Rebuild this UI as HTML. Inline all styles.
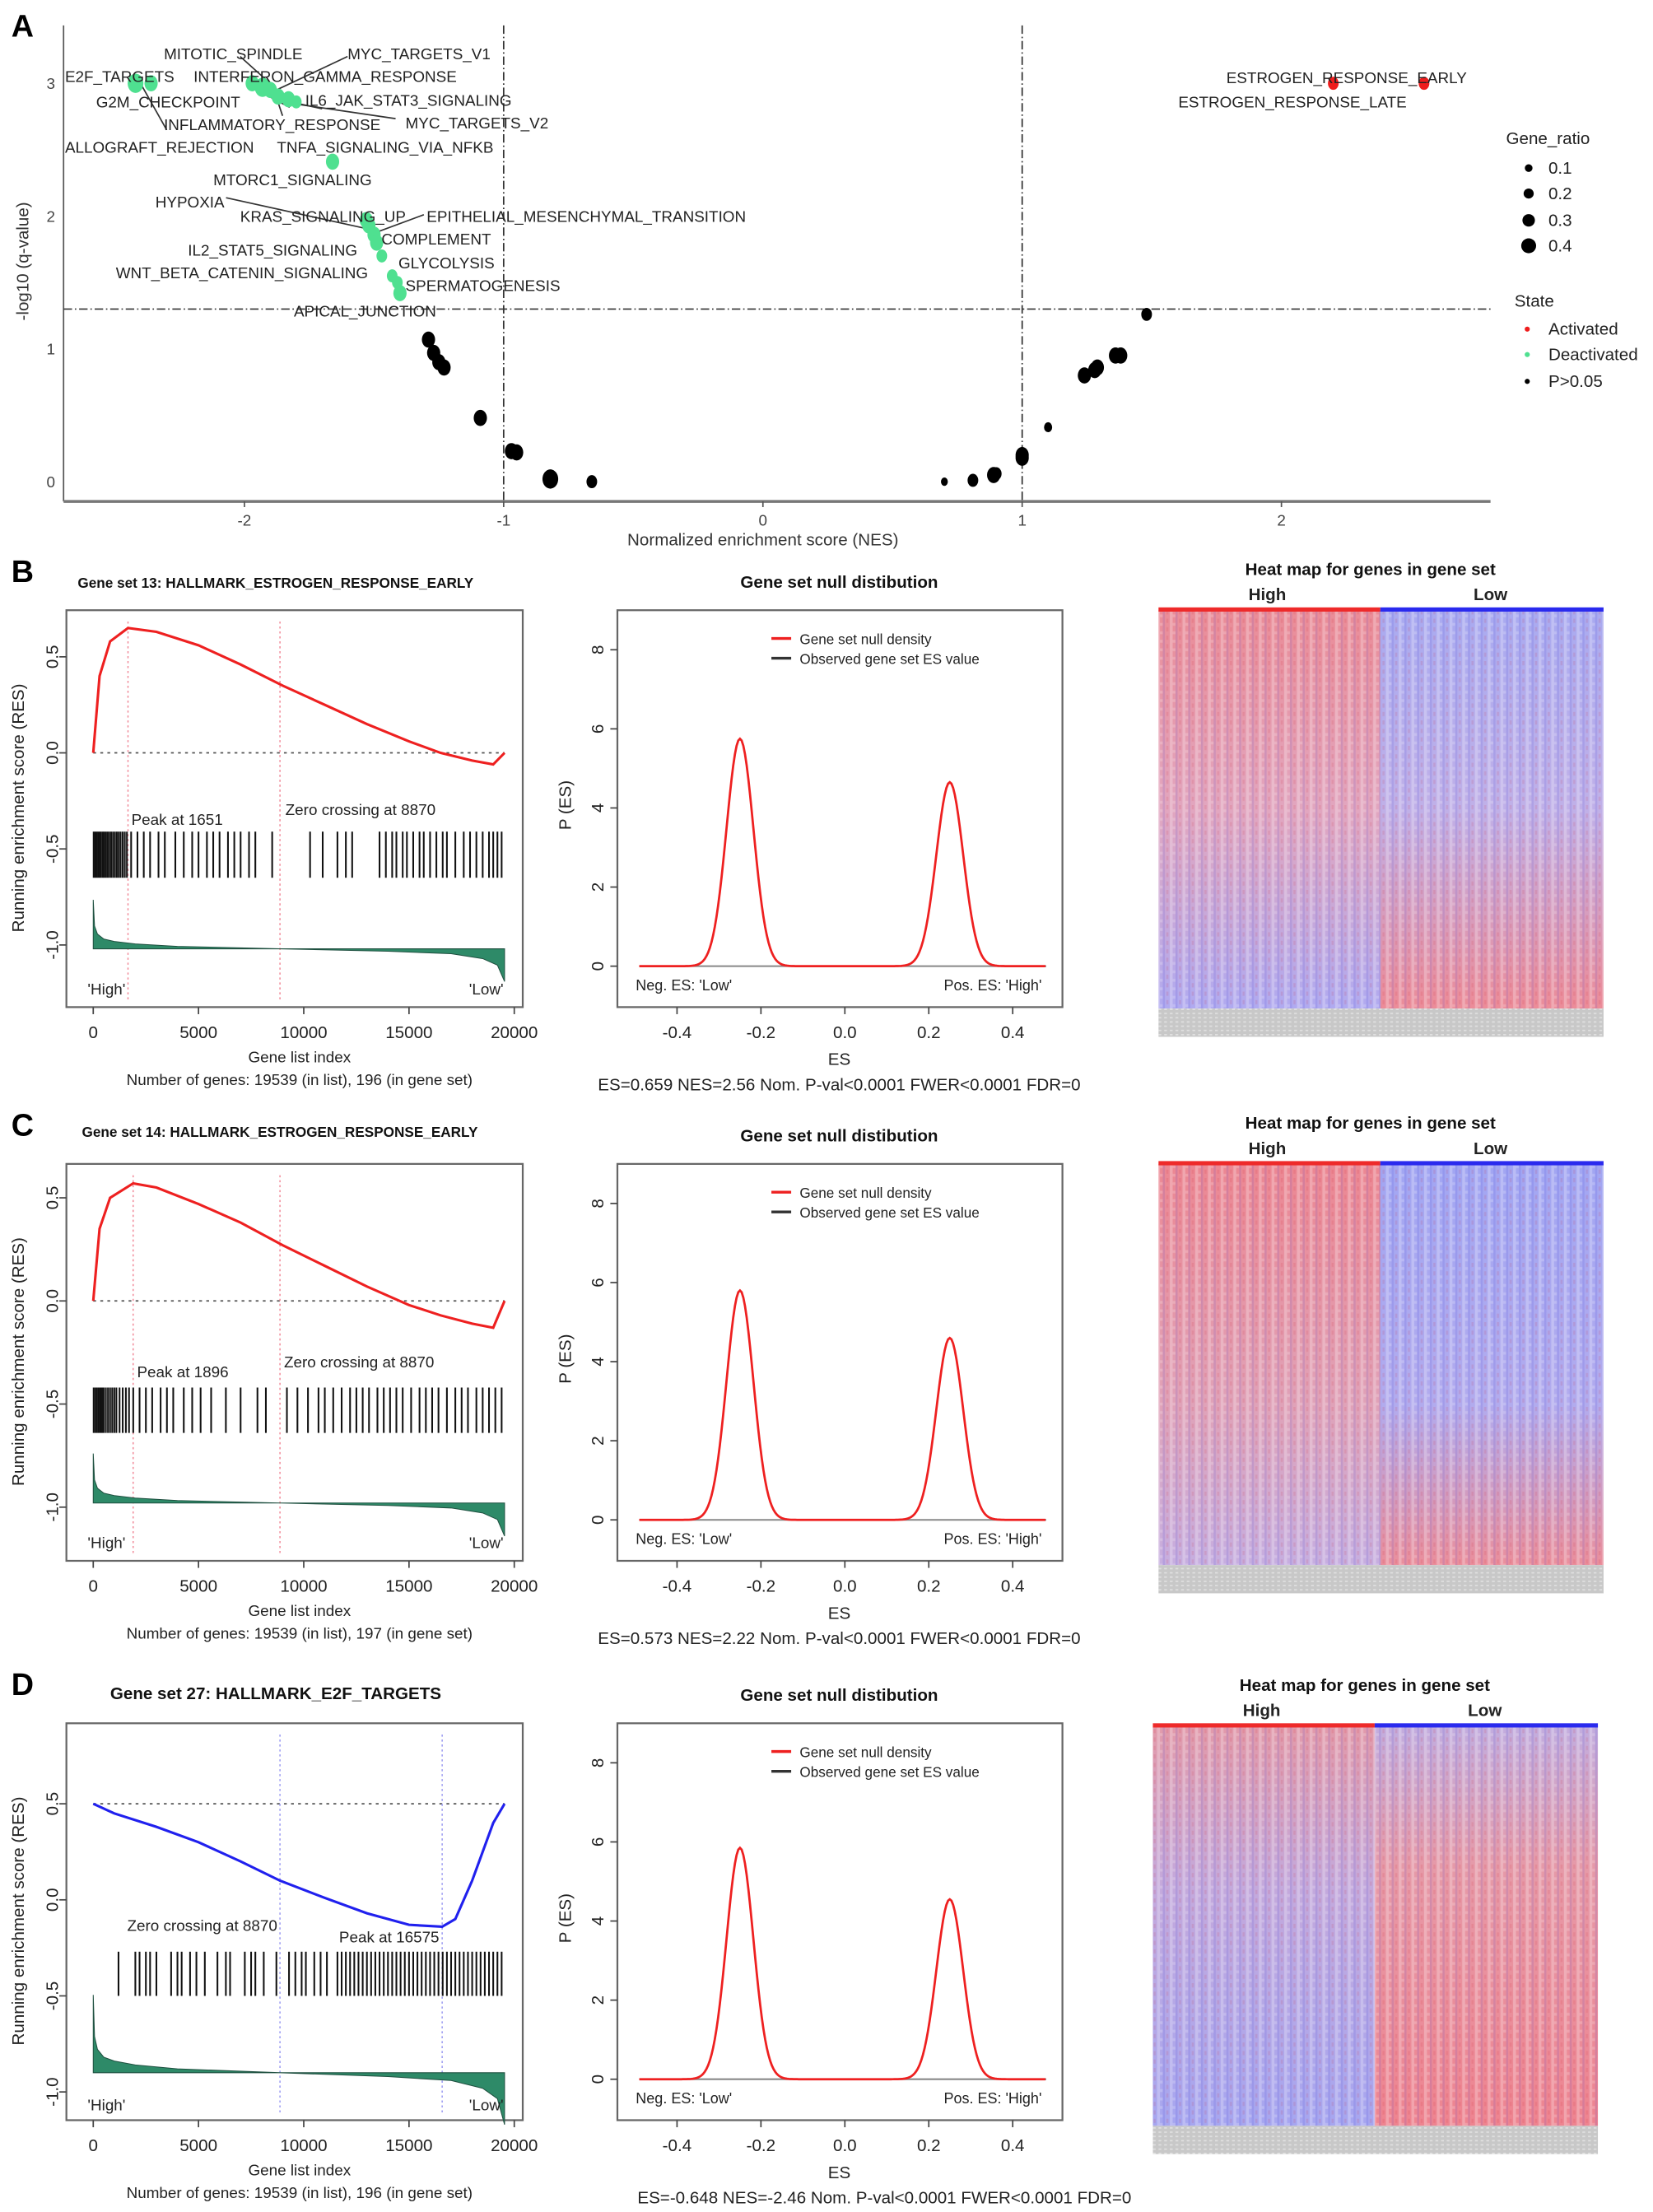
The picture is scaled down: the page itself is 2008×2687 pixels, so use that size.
<!DOCTYPE html>
<html><head><meta charset="utf-8"><title>GSEA figure</title>
<style>
html,body{margin:0;padding:0;background:#fff;}
svg{display:block;font-family:"Liberation Sans",sans-serif;}
</style></head>
<body>
<svg id="fig" width="2008" height="2687" viewBox="0 0 1170 1566" preserveAspectRatio="none" xmlns="http://www.w3.org/2000/svg">
<defs>
<pattern id="stripes" width="9" height="6" patternUnits="userSpaceOnUse">
<rect x="0" y="0" width="2" height="6" fill="#ffffff" opacity="0.25"/>
<rect x="4" y="0" width="1.5" height="6" fill="#3030d0" opacity="0.12"/>
<rect x="6.5" y="0" width="1.5" height="3" fill="#d02030" opacity="0.12"/>
<rect x="2" y="3" width="2" height="2" fill="#ffffff" opacity="0.2"/>
</pattern>
<pattern id="grayp" width="4" height="3" patternUnits="userSpaceOnUse">
<rect width="4" height="3" fill="#c8c8c8"/><rect width="2" height="1" fill="#e0e0e0"/>
</pattern>
<linearGradient id="gBL" x1="0" y1="0" x2="0" y2="1"><stop offset="0" stop-color="#ea8c97"/><stop offset="0.5" stop-color="#e2a6bf"/><stop offset="1" stop-color="#b0aaf0"/></linearGradient>
<linearGradient id="gBR" x1="0" y1="0" x2="0" y2="1"><stop offset="0" stop-color="#a9aaf0"/><stop offset="0.5" stop-color="#c0b0e8"/><stop offset="1" stop-color="#ec8c98"/></linearGradient>
<linearGradient id="gCL" x1="0" y1="0" x2="0" y2="1"><stop offset="0" stop-color="#ec8792"/><stop offset="0.6" stop-color="#e0a2b8"/><stop offset="1" stop-color="#c6aee0"/></linearGradient>
<linearGradient id="gCR" x1="0" y1="0" x2="0" y2="1"><stop offset="0" stop-color="#a2a6f2"/><stop offset="0.6" stop-color="#b2abee"/><stop offset="1" stop-color="#ea8f9c"/></linearGradient>
<linearGradient id="gDL" x1="0" y1="0" x2="0" y2="1"><stop offset="0" stop-color="#e29aaa"/><stop offset="0.4" stop-color="#c4a9dc"/><stop offset="1" stop-color="#a6a6f0"/></linearGradient>
<linearGradient id="gDR" x1="0" y1="0" x2="0" y2="1"><stop offset="0" stop-color="#c2addf"/><stop offset="0.35" stop-color="#e69aa8"/><stop offset="1" stop-color="#ee8490"/></linearGradient>
</defs>
<g id="root"></g>
</svg>
<script>
// ===== Panel A data =====
const deactNES = [-2.42,-2.36,-1.97,-1.93,-1.90,-1.87,-1.83,-1.80,-1.66,-1.53,-1.52,-1.50,-1.49,-1.47,-1.43,-1.41,-1.40];
const deactQ   = [3.00,3.00,3.00,2.97,2.95,2.90,2.88,2.86,2.41,1.97,1.93,1.86,1.80,1.70,1.55,1.50,1.42];
const deactR   = [0.4,0.3,0.3,0.4,0.3,0.3,0.3,0.2,0.3,0.3,0.3,0.3,0.3,0.2,0.2,0.2,0.3];
const actNES = [2.20,2.55];
const actQ   = [3.00,3.00];
const actR   = [0.2,0.2];
const nsNES = [-1.29,-1.27,-1.25,-1.23,-1.09,-0.97,-0.95,-0.82,-0.66,0.70,0.81,0.89,0.90,1.00,1.00,1.10,1.24,1.28,1.29,1.36,1.38,1.48];
const nsQ   = [1.07,0.97,0.90,0.86,0.48,0.23,0.22,0.02,0.00,0.00,0.01,0.05,0.06,0.18,0.20,0.41,0.80,0.84,0.86,0.95,0.95,1.26];
const nsR   = [0.3,0.3,0.3,0.3,0.3,0.3,0.3,0.4,0.2,0.05,0.2,0.3,0.2,0.3,0.3,0.1,0.3,0.3,0.3,0.3,0.3,0.2];
const xTicksA = [-2,-1,0,1,2];
const yTicksA = [0,1,2,3];
const labelsA = [
 ["MITOTIC_SPINDLE",116,38],["MYC_TARGETS_V1",246,38],["E2F_TARGETS",46,54],["INTERFERON_GAMMA_RESPONSE",137,54],
 ["G2M_CHECKPOINT",68,72],["IL6_JAK_STAT3_SIGNALING",216,71],["INFLAMMATORY_RESPONSE",116,88],["MYC_TARGETS_V2",287,87],
 ["ALLOGRAFT_REJECTION",46,104],["TNFA_SIGNALING_VIA_NFKB",196,104],["MTORC1_SIGNALING",151,127],["HYPOXIA",110,143],
 ["KRAS_SIGNALING_UP",170,153],["EPITHELIAL_MESENCHYMAL_TRANSITION",302,153],["COMPLEMENT",270,169],["IL2_STAT5_SIGNALING",133,177],
 ["GLYCOLYSIS",282,186],["WNT_BETA_CATENIN_SIGNALING",82,193],["SPERMATOGENESIS",287,202],["APICAL_JUNCTION",208,220],
 ["ESTROGEN_RESPONSE_EARLY",868,55],["ESTROGEN_RESPONSE_LATE",834,72]];

// ===== GSEA panels data =====
const resIdxB = [0,300,800,1651,3000,5000,7000,9000,11000,13000,15000,16500,18000,19000,19539];
const resValB = [0,0.40,0.58,0.65,0.63,0.56,0.46,0.35,0.25,0.15,0.06,0,-0.04,-0.06,0];
const resIdxC = [0,300,800,1896,3000,5000,7000,9000,11000,13000,15000,16500,18000,19000,19539];
const resValC = [0,0.35,0.50,0.57,0.55,0.47,0.38,0.27,0.17,0.07,-0.02,-0.07,-0.11,-0.13,0];
const resIdxD = [0,1000,3000,5000,7000,8870,11000,13000,15000,16575,17200,18000,19000,19539];
const resValD = [0.50,0.45,0.38,0.30,0.20,0.10,0.01,-0.07,-0.13,-0.14,-0.10,0.10,0.40,0.50];
const hitsB = [20,90,160,230,300,370,450,520,600,680,760,850,940,1030,1120,1210,1300,1400,1500,1600,1800,2100,2400,2700,3100,3400,3900,4300,4700,5000,5400,5700,6000,6400,6700,7000,7400,7700,8500,10300,10900,11600,12000,12300,13600,13900,14200,14400,14700,14900,15200,15500,15700,16000,16300,16600,16800,17200,17600,17900,18200,18500,18800,19000,19200,19400];
const hitsC = [20,100,180,260,340,420,500,600,700,800,900,1000,1100,1250,1400,1550,1700,1900,2200,2500,2800,3200,3500,3800,4300,4700,5100,5600,6300,7000,7800,8200,9200,9700,10200,10700,11000,11400,11800,12200,12500,12800,13100,13500,13800,14100,14400,14700,15100,15500,15800,16100,16400,16800,17200,17500,17800,18200,18500,18800,19100,19400];
const hitsD = [1200,2000,2200,2500,2700,3000,3700,4000,4200,4600,4900,5300,5900,6300,6500,7200,7500,7700,8100,8700,9300,9600,9900,10100,10500,10800,11100,11600,11800,12000,12200,12400,12600,12800,13000,13200,13400,13600,13800,14000,14200,14400,14600,14800,15000,15200,15400,15600,15800,16000,16200,16400,16600,16800,17000,17200,17400,17600,17800,18000,18200,18400,18600,18800,19000,19200,19400];
const metIdx = [0,60,200,500,1000,2000,4000,8870,14000,17000,18500,19200,19539];
const metVal = [0.30,0.14,0.09,0.06,0.045,0.03,0.015,0,-0.015,-0.03,-0.06,-0.1,-0.2];
const xTicksG = [0,5000,10000,15000,20000];
const yTicksG = [0.5,0.0,-0.5,-1.0];
// null distribution
const nullPeakES = [-0.25,0.25];
const nullPeakB = [5.75,4.65];
const nullPeakC = [5.80,4.60];
const nullPeakD = [5.85,4.55];
const nullSD = 0.032;
const xTicksN = [-0.4,-0.2,0.0,0.2,0.4];
const yTicksN = [0,2,4,6,8];

const NS="http://www.w3.org/2000/svg";
const root=document.getElementById('root');
function el(tag,attrs,parent){const e=document.createElementNS(NS,tag);for(const k in attrs)e.setAttribute(k,attrs[k]);(parent||root).appendChild(e);return e;}
function txt(s,x,y,attrs,parent){const t=el('text',Object.assign({x:x,y:y,'font-size':11,fill:'#222'},attrs||{}),parent);t.textContent=s;return t;}

// ===== Panel A =====
const gA=el('g',{});


const XA=v=>540+183.5*v, YA=v=>341-94*v;
const RA=r=>2.2+r*10;
let t=txt('A',8,26,{'font-size':22,'font-weight':'bold',fill:'#000'},gA);


let ax=el('line',{x1:45,y1:18,x2:45,y2:355,stroke:'#555','stroke-width':1},gA);


ax=el('line',{x1:45,y1:355,x2:1055,y2:355,stroke:'#777','stroke-width':2},gA);


for(const v of xTicksA){
  let tk=txt(String(v),XA(v),372,{'text-anchor':'middle','font-size':11,fill:'#444'},gA);
  
  
  el('line',{x1:XA(v),y1:355,x2:XA(v),y2:359,stroke:'#555'},gA);
}
for(const v of yTicksA){
  let tk=txt(String(v),36,YA(v)+4,{'text-anchor':'middle','font-size':11,fill:'#444'},gA);
  
  
}
let rl=el('line',{x1:45,y1:YA(1.3),x2:1055,y2:YA(1.3),stroke:'#333','stroke-dasharray':'6 2 1 2'},gA);


for(const v of [-1,1]){
  rl=el('line',{x1:XA(v),y1:18,x2:XA(v),y2:355,stroke:'#333','stroke-dasharray':'6 2 1 2'},gA);
  
  
}
t=txt('Normalized enrichment score (NES)',540,386,{'text-anchor':'middle','font-size':12,fill:'#333'},gA);


t=txt('-log10 (q-value)',0,0,{'text-anchor':'middle','font-size':12,fill:'#333',transform:'translate(20,185) rotate(-90)'},gA);


// leader lines
const leaders=[[170,40,190,58],[246,40,195,64],[100,60,118,92],[205,76,190,68],[200,82,196,70],[228,77,205,72],[280,84,205,73],[160,140,260,162],[300,152,265,165]];
for(const l of leaders){let ln=el('line',{x1:l[0],y1:l[1],x2:l[2],y2:l[3],stroke:'#333','stroke-width':1},gA);

}
for(let i=0;i<nsNES.length;i++){
  const c=el('ellipse',{cx:XA(nsNES[i]),cy:YA(nsQ[i]),rx:RA(nsR[i])*0.9,ry:RA(nsR[i])*1.1,fill:'#000'},gA);
  
  
}
for(let i=0;i<deactNES.length;i++){
  const c=el('ellipse',{cx:XA(deactNES[i]),cy:YA(deactQ[i]),rx:RA(deactR[i])*0.9,ry:RA(deactR[i])*1.1,fill:'#4fe090'},gA);
  
  
}
for(let i=0;i<actNES.length;i++){
  const c=el('ellipse',{cx:XA(actNES[i]),cy:YA(actQ[i]),rx:RA(actR[i])*0.9,ry:RA(actR[i])*1.1,fill:'#ee1c1c'},gA);
  
  
}
for(const L of labelsA){
  const lt=txt(L[0],L[1],L[2]+4,{'font-size':11,fill:'#222'},gA);
  
  
}
// legend
t=txt('Gene_ratio',1066,102,{'font-size':12,fill:'#222'},gA);


const legR=[0.1,0.2,0.3,0.4],legY=[119,137,156,174];
for(let i=0;i<4;i++){
  const c=el('circle',{cx:1082,cy:legY[i],r:RA(legR[i])*0.85,fill:'#000'},gA);
  
  
  txt(String(legR[i]),1096,legY[i]+4,{'font-size':12},gA);
}
t=txt('State',1072,217,{'font-size':12,fill:'#222'},gA);


const stN=['Activated','Deactivated','P>0.05'],stC=['#ee1c1c','#4fe090','#000'],stY=[233,251,270];
for(let i=0;i<3;i++){
  const c=el('circle',{cx:1081,cy:stY[i],r:1.8,fill:stC[i]},gA);
  
  
  txt(stN[i],1096,stY[i]+4,{'font-size':12},gA);
}

// ===== GSEA rows =====
function interp(xs,ys,x){for(let i=1;i<xs.length;i++){if(x<=xs[i]){const f=(x-xs[i-1])/(xs[i]-xs[i-1]);return ys[i-1]+f*(ys[i]-ys[i-1]);}}return ys[ys.length-1];}
function gseaRow(cfg){
  const g=el('g',{});
  
  
  const oy=cfg.oy, ox=cfg.hx||0;
  let lt=txt(cfg.letter,8,oy+412,{'font-size':22,'font-weight':'bold',fill:'#000'},g);
  
  
  // ---- RES plot ----
  const X=v=>66+v*(298/20000), Y=v=>cfg.y0+oy-cfg.k*v;
  const box=el('rect',{x:47,y:oy+432,width:323,height:281,fill:'none',stroke:'#666','stroke-width':1.3},g);
  
  
  lt=txt(cfg.title,cfg.titleX,oy+cfg.titleY,{'font-size':cfg.titleSize,'font-weight':'bold',fill:'#111'},g);
  
  
  for(const v of xTicksG){
    el('line',{x1:X(v),y1:oy+713,x2:X(v),y2:oy+718,stroke:'#444'},g);
    const tk=txt(String(v),X(v),oy+735,{'text-anchor':'middle','font-size':12,fill:'#222'},g);
    
    
  }
  for(const v of yTicksG){
    el('line',{x1:42,y1:Y(v),x2:47,y2:Y(v),stroke:'#444'},g);
    const tk=txt(v.toFixed(1),0,0,{'text-anchor':'middle','font-size':12,fill:'#222',transform:`translate(41,${Y(v)}) rotate(-90)`},g);
    
    
  }
  lt=txt('Running enrichment score (RES)',0,0,{'text-anchor':'middle','font-size':12,fill:'#222',transform:`translate(17,${oy+572}) rotate(-90)`},g);
  
  
  lt=txt('Gene list index',212,oy+752,{'text-anchor':'middle','font-size':11},g);
  
  
  lt=txt(cfg.ngenes,212,oy+768,{'text-anchor':'middle','font-size':11},g);
  
  
  // reference dashed line
  let dl=el('line',{x1:X(0),y1:Y(cfg.refLine),x2:X(19539),y2:Y(cfg.refLine),stroke:'#555','stroke-dasharray':'2 3'},g);
  
  
  for(const v of [cfg.peak,8870]){
    dl=el('line',{x1:X(v),y1:oy+440,x2:X(v),y2:oy+708,stroke:cfg.vcol,'stroke-dasharray':'1.5 2','stroke-width':0.8},g);
    
    
  }
  // metric (green)
  let d=`M${X(0)},${Y(cfg.base)}`;
  for(let i=0;i<metIdx.length;i++) d+=` L${X(metIdx[i])},${Y(cfg.base+metVal[i]*cfg.ms*(metVal[i]>0?cfg.up:1))}`;
  d+=` L${X(19539)},${Y(cfg.base)} Z`;
  const gp=el('path',{d:d,fill:'#2e8a68',stroke:'#1f5040','stroke-width':0.6},g);
  
  
  // hits
  for(const h of cfg.hits){
    const b=el('line',{x1:X(h),y1:Y(cfg.hitTop),x2:X(h),y2:Y(cfg.hitBot),stroke:'#111','stroke-width':1.2},g);
    
    
  }
  // curve
  let pts=cfg.rx.map((v,i)=>`${X(v)},${Y(cfg.ry[i])}`).join(' ');
  const cv=el('polyline',{points:pts,fill:'none',stroke:cfg.col,'stroke-width':1.8},g);
  
  
  lt=txt(cfg.peakLbl[0],cfg.peakLbl[1],oy+cfg.peakLbl[2],{'font-size':11},g);
  
  
  lt=txt('Zero crossing at 8870',cfg.zcLbl[0],oy+cfg.zcLbl[1],{'font-size':11},g);
  
  
  txt("'High'",62,oy+cfg.hlY,{'font-size':11},g);
  txt("'Low'",332,oy+cfg.hlY,{'font-size':11},g);

  // ---- null distribution ----
  const XN=v=>598+v*297, YN=v=>oy+684-28*v;
  const nb=el('rect',{x:437,y:oy+432,width:315,height:281,fill:'none',stroke:'#666','stroke-width':1.3},g);
  
  
  lt=txt('Gene set null distibution',594,oy+416,{'text-anchor':'middle','font-size':12,'font-weight':'bold',fill:'#111'},g);
  
  
  for(const v of xTicksN){
    el('line',{x1:XN(v),y1:oy+713,x2:XN(v),y2:oy+718,stroke:'#444'},g);
    const tk=txt(v.toFixed(1),XN(v),oy+735,{'text-anchor':'middle','font-size':12},g);
    
    
  }
  for(const v of yTicksN){
    el('line',{x1:432,y1:YN(v),x2:437,y2:YN(v),stroke:'#444'},g);
    const tk=txt(String(v),0,0,{'text-anchor':'middle','font-size':12,transform:`translate(427,${YN(v)}) rotate(-90)`},g);
    
    
  }
  lt=txt('P (ES)',0,0,{'text-anchor':'middle','font-size':12,transform:`translate(404,${oy+570}) rotate(-90)`},g);
  
  
  lt=txt('ES',594,oy+754,{'text-anchor':'middle','font-size':12},g);
  
  
  lt=txt(cfg.stats,cfg.statsX,oy+772,{'text-anchor':'middle','font-size':12},g);
  
  
  el('line',{x1:XN(-0.49),y1:YN(0),x2:XN(0.48),y2:YN(0),stroke:'#888','stroke-width':1.2},g);
  let np=[];
  for(let e=-0.49;e<=0.48;e+=0.004){let y=0;for(let j=0;j<2;j++){const z=(e-nullPeakES[j])/nullSD;y+=cfg.np[j]*Math.exp(-0.5*z*z);}np.push(`${XN(e)},${YN(y)}`);}
  const nc=el('polyline',{points:np.join(' '),fill:'none',stroke:'#ee2020','stroke-width':1.6},g);
  
  
  el('line',{x1:546,y1:oy+452,x2:560,y2:oy+452,stroke:'#ee2020','stroke-width':2},g);
  el('line',{x1:546,y1:oy+466,x2:560,y2:oy+466,stroke:'#333','stroke-width':2},g);
  lt=txt('Gene set null density',566,oy+456,{'font-size':10},g);
  
  
  lt=txt('Observed gene set ES value',566,oy+470,{'font-size':10},g);
  
  
  txt("Neg. ES: 'Low'",450,oy+701,{'font-size':10.5},g);
  txt("Pos. ES: 'High'",668,oy+701,{'font-size':10.5},g);

  // ---- heatmap ----
  const hx=820+ox, hy=oy+cfg.hmY, hw=315, hh=cfg.hmH, half=157;
  const hm=el('g',{},g);
  
  
  el('rect',{x:hx,y:hy,width:half,height:hh,fill:`url(#${cfg.gl})`},hm);
  el('rect',{x:hx+half,y:hy,width:hw-half,height:hh,fill:`url(#${cfg.gr})`},hm);
  el('rect',{x:hx,y:hy,width:hw,height:hh,fill:'url(#stripes)'},hm);
  el('rect',{x:hx,y:hy+hh,width:hw,height:20,fill:'url(#grayp)'},hm);
  let bar=el('rect',{x:hx,y:hy-2,width:half,height:3,fill:'#ee2a2a'},hm);
  
  
  bar=el('rect',{x:hx+half,y:hy-2,width:hw-half,height:3,fill:'#2a2aee'},hm);
  
  
  lt=txt('Heat map for genes in gene set',hx+150,hy-25,{'text-anchor':'middle','font-size':12,'font-weight':'bold',fill:'#111'},g);
  
  
  txt('High',hx+77,hy-7,{'text-anchor':'middle','font-size':12,'font-weight':'bold'},g);
  txt('Low',hx+235,hy-7,{'text-anchor':'middle','font-size':12,'font-weight':'bold'},g);
}
gseaRow({name:'gsea-row-b',letter:'B',oy:0,y0:533,k:136,title:'Gene set 13: HALLMARK_ESTROGEN_RESPONSE_EARLY',titleX:55,titleY:416,titleSize:10,
 ngenes:'Number of genes: 19539 (in list), 196 (in gene set)',refLine:0,peak:1651,vcol:'#f08090',col:'#ee2020',
 rx:resIdxB,ry:resValB,hits:hitsB,hitTop:-0.41,hitBot:-0.65,base:-1.02,ms:0.85,up:1,peakLbl:['Peak at 1651',93,584],zcLbl:[202,577],hlY:704,
 np:nullPeakB,stats:'ES=0.659 NES=2.56 Nom. P-val<0.0001 FWER<0.0001 FDR=0',statsX:594,gl:'gBL',gr:'gBR',hmY:432,hmH:282});
gseaRow({name:'gsea-row-c',letter:'C',oy:392,y0:529,k:146,title:'Gene set 14: HALLMARK_ESTROGEN_RESPONSE_EARLY',titleX:58,titleY:413,titleSize:10,
 ngenes:'Number of genes: 19539 (in list), 197 (in gene set)',refLine:0,peak:1896,vcol:'#f08090',col:'#ee2020',
 rx:resIdxC,ry:resValC,hits:hitsC,hitTop:-0.42,hitBot:-0.64,base:-0.98,ms:0.8,up:1,peakLbl:['Peak at 1896',97,583],zcLbl:[201,576],hlY:704,
 np:nullPeakC,stats:'ES=0.573 NES=2.22 Nom. P-val<0.0001 FWER<0.0001 FDR=0',statsX:594,gl:'gCL',gr:'gCR',hmY:432,hmH:284});
gseaRow({name:'gsea-row-d',letter:'D',oy:788,y0:557,k:136,title:'Gene set 27: HALLMARK_E2F_TARGETS',titleX:78,titleY:415,titleSize:12,
 ngenes:'Number of genes: 19539 (in list), 196 (in gene set)',refLine:0.5,peak:16575,vcol:'#9090f0',col:'#2020ee',
 rx:resIdxD,ry:resValD,hits:hitsD,hitTop:-0.27,hitBot:-0.5,base:-0.9,ms:1.35,up:1,peakLbl:['Peak at 16575',240,587],zcLbl:[90,579],hlY:706,
 np:nullPeakD,stats:'ES=-0.648 NES=-2.46 Nom. P-val<0.0001 FWER<0.0001 FDR=0',statsX:626,gl:'gDL',gr:'gDR',hmY:434,hmH:283,hx:-4});
</script>
</body></html>
